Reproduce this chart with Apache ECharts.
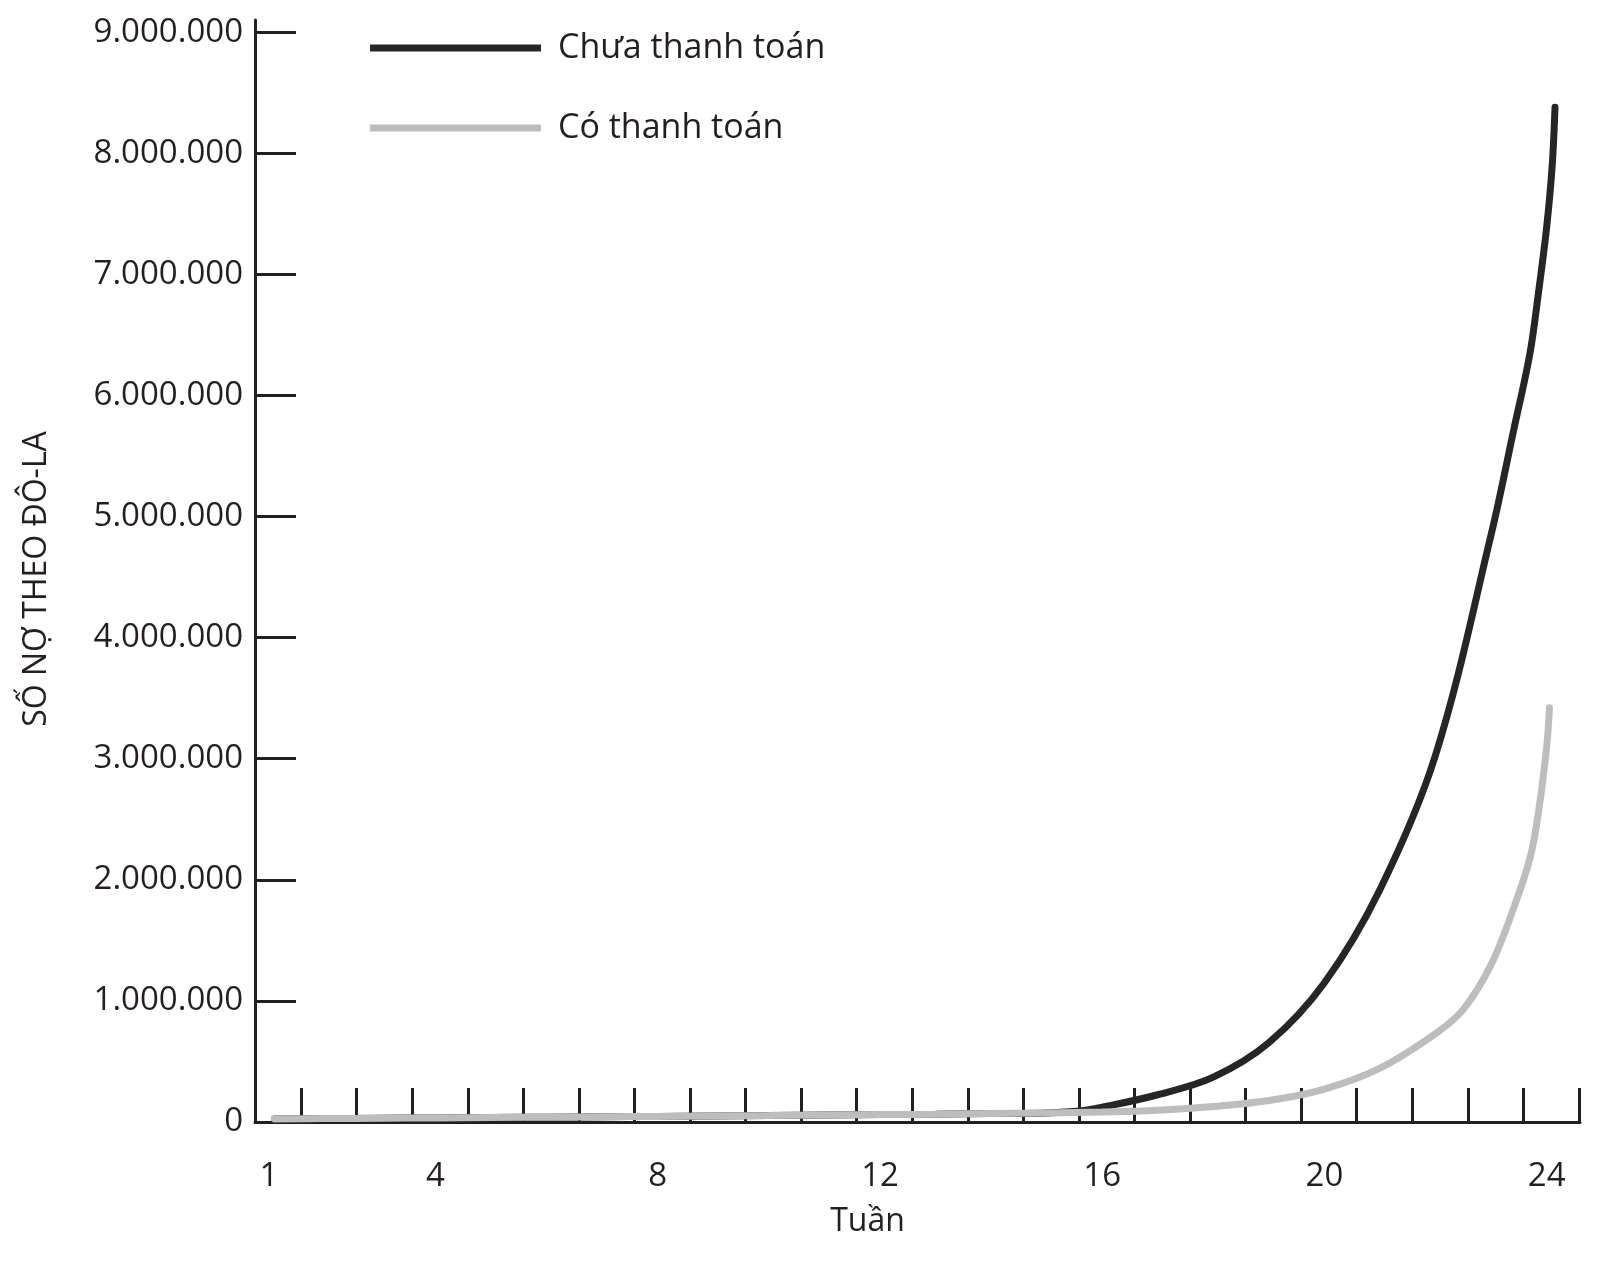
<!DOCTYPE html>
<html>
<head>
<meta charset="utf-8">
<title>Số nợ theo tuần</title>
<script src="https://cdn.jsdelivr.net/npm/echarts@6/dist/echarts.min.js"></script>
<style>
  html, body { margin: 0; padding: 0; background: #fff; }
  #chart { width: 1600px; height: 1261px; }
</style>
</head>
<body>
<div id="chart"></div>
<script>
// du lieu doc tu hinh
var weekLabels = [1, 4, 8, 12, 16, 20, 24];
var weekTicks = [1, 2, 3, 4, 5, 6, 7, 8, 9, 10, 11, 12, 13, 14, 15, 16, 17, 18, 19, 20, 21, 22, 23, 24];
var debtTicks = [0, 1000000, 2000000, 3000000, 4000000, 5000000, 6000000, 7000000, 8000000, 9000000];

var seriesNames = ['Chưa thanh toán', 'Có thanh toán'];

// Chưa thanh toán
var unpaidWeeks = [1.1, 2, 3, 4, 5, 6, 7, 8, 9, 10, 11, 12, 13, 14, 15, 15.6, 16, 17, 18, 19, 20, 21, 22, 23, 23.4, 23.7, 23.85, 24, 24.1, 24.15];
var unpaidValues = [25000, 28000, 31000, 34000, 37000, 40000, 43000, 46000, 50000, 53000, 57000, 61000, 65000, 70000, 75000,
    90000, 122000, 225000, 370000, 655000, 1150000, 1920000, 3030000, 4850000, 5700000, 6350000, 6840000, 7390000, 7900000, 8380000];

// Có thanh toán
var paidWeeks = [1.1, 2, 3, 4, 5, 6, 7, 8, 9, 10, 11, 12, 13, 14, 15, 16, 17, 18, 19, 20, 21, 22, 22.5, 23, 23.4, 23.7, 23.85, 24, 24.05];
var paidValues = [25000, 28000, 31000, 34000, 37000, 40000, 43000, 46000, 50000, 53000, 57000, 61000, 65000, 70000, 75000,
    82000, 97000, 128000, 177000, 272000, 445000, 730000, 930000, 1300000, 1760000, 2180000, 2550000, 3100000, 3420000];

function pairs(xs, ys){
    var out = [];
    for(var i = 0; i < xs.length; i++){
        out.push([xs[i], ys[i]]);
    }
    return out;
}

var FONT = '"Open Sans", "Noto Sans", sans-serif';
var INK = '#231f20';

var chart = echarts.init(document.getElementById('chart'), null, {renderer: 'canvas'});
var option = {
    backgroundColor: '#ffffff',
    animation: false,
    textStyle: { fontFamily: FONT, color: INK },
    legend: {
        orient: 'vertical',
        left: 365,
        top: 23,
        itemWidth: 171,
        itemHeight: 7,
        itemGap: 40,
        icon: 'rect',
        data: seriesNames,
        textStyle: { fontFamily: FONT, fontSize: 34, color: INK, lineHeight: 40, padding: [0, 0, 0, 12] }
    },
    grid: { left: 255, right: 20, top: 20, bottom: 139, containLabel: false },
    xAxis: {
        type: 'value',
        min: 0.75,
        max: 24.6,
        name: 'Tuần',
        nameLocation: 'middle',
        nameGap: 84,
        nameTextStyle: { fontFamily: FONT, fontSize: 32, color: INK, padding: [0, 100, 0, 0] },
        axisLine: { show: true, lineStyle: { color: INK, width: 3 } },
        axisTick: {
            show: true,
            inside: true,
            length: 34,
            lineStyle: { color: INK, width: 3 },
            customValues: weekTicks.map(function(w){ return w + 0.58; })
        },
        axisLabel: {
            fontFamily: FONT,
            fontSize: 33,
            color: INK,
            margin: 38,
            customValues: weekLabels
        },
        splitLine: { show: false }
    },
    yAxis: {
        type: 'value',
        min: 0,
        max: 9100000,
        name: 'SỐ NỢ THEO ĐÔ-LA',
        nameLocation: 'middle',
        nameGap: 202,
        nameRotate: 90,
        nameTextStyle: { fontFamily: FONT, fontSize: 32, color: INK, padding: [0, 16, 0, 0] },
        axisLine: { show: true, lineStyle: { color: INK, width: 3 } },
        axisTick: {
            show: true,
            inside: true,
            length: 41,
            lineStyle: { color: INK, width: 3 },
            customValues: debtTicks
        },
        axisLabel: {
            fontFamily: FONT,
            fontSize: 33,
            color: INK,
            margin: 12,
            customValues: debtTicks,
            formatter: function(v){
                return String(v).replace(/\B(?=(\d{3})+(?!\d))/g, '.');
            }
        },
        splitLine: { show: false }
    },
    series: [
        {
            name: seriesNames[0],
            type: 'line',
            data: pairs(unpaidWeeks, unpaidValues),
            smooth: 0.35,
            showSymbol: false,
            color: '#262626',
            lineStyle: { color: '#262626', width: 7, cap: 'round' },
            z: 2
        },
        {
            name: seriesNames[1],
            type: 'line',
            data: pairs(paidWeeks, paidValues),
            smooth: 0.35,
            showSymbol: false,
            color: '#bdbdbd',
            lineStyle: { color: '#bdbdbd', width: 7, cap: 'round' },
            z: 3
        }
    ]
};
chart.setOption(option);
</script>
</body>
</html>
